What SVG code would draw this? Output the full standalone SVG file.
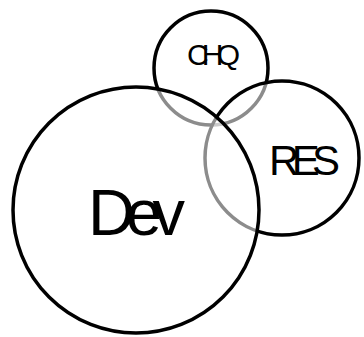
<svg xmlns="http://www.w3.org/2000/svg" width="364" height="337" viewBox="0 0 364 337">
<style>
.c{fill:#fff;fill-opacity:0.55;stroke:#000;stroke-width:3.5}
.t{font-family:"Liberation Sans",Arial,sans-serif;fill:#000}
</style>
<rect width="364" height="337" fill="#fff"/>
<g id="connectors"></g>
<g id="CHQ">
<circle class="c" cx="211" cy="68" r="57"/>
<text class="t" x="187" y="65" font-size="30" textLength="53" lengthAdjust="spacing">CHQ</text>
</g>
<g id="RES">
<circle class="c" cx="282" cy="158" r="77"/>
<text class="t" x="269" y="175" font-size="42" textLength="71" lengthAdjust="spacing">RES</text>
</g>
<g id="Dev">
<circle class="c" cx="136" cy="210" r="123"/>
<text class="t" x="88" y="235" font-size="65" textLength="97" lengthAdjust="spacing">Dev</text>
</g>
</svg>
